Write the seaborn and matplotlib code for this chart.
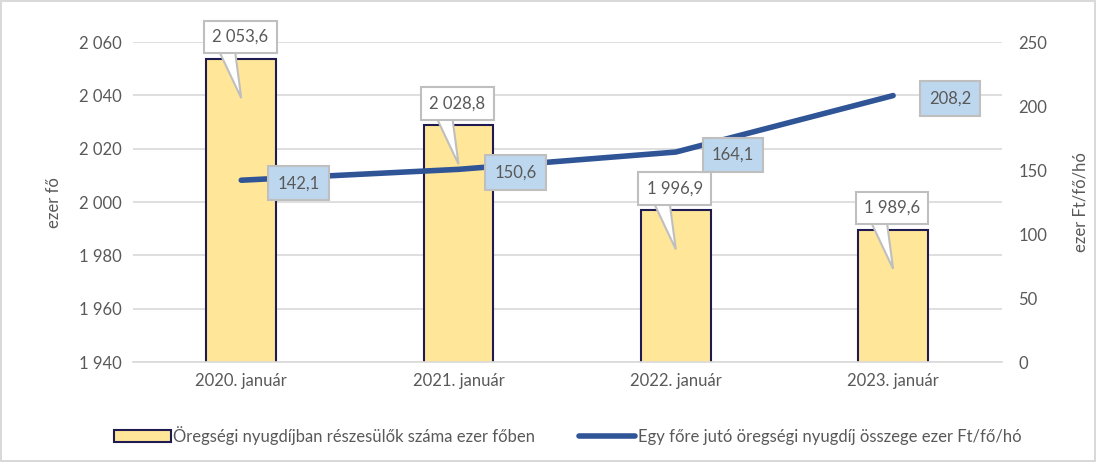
import matplotlib
matplotlib.use("Agg")
import matplotlib.pyplot as plt
import matplotlib.transforms as mtransforms
from matplotlib.patches import Patch, Polygon
from matplotlib.lines import Line2D
import seaborn as sns
import numpy as np
import pandas as pd

categories = ["2020. január", "2021. január", "2022. január", "2023. január"]
pensioners = [2053.6, 2028.8, 1996.9, 1989.6]
pension_amount = [142.1, 150.6, 164.1, 208.2]
left_ticks = [1940, 1960, 1980, 2000, 2020, 2040, 2060]
right_ticks = [0, 50, 100, 150, 200, 250]
bar_label_name = "Öregségi nyugdíjban részesülők száma ezer főben"
line_label_name = "Egy főre jutó öregségi nyugdíj összege ezer Ft/fő/hó"

def hu(v, dec=0):
    s = f"{v:,.{dec}f}"
    return s.replace(",", " ").replace(".", ",")

sns.set_theme(style="white")
plt.rcParams["font.family"] = ["Lato", "DejaVu Sans"]

TXT = "#595959"
BAR = "#FFE699"
BAR_EDGE = "#1F1A4F"
LINE = "#2F5597"
GRID = "#D9D9D9"
CALLOUT_EDGE = "#BFBFBF"
FS = 12

fig = plt.figure(figsize=(10.96, 4.62), dpi=100)
fig.patch.set_facecolor("white")
fig.patch.set_edgecolor("#D9D9D9")
fig.patch.set_linewidth(1.5)
ax = fig.add_axes([0.121, 0.216, 0.793, 0.693])

df = pd.DataFrame({"cat": categories, "val": pensioners})
sns.barplot(data=df, x="cat", y="val", ax=ax, color=BAR, width=0.32,
            edgecolor=BAR_EDGE, linewidth=1.5, saturation=1)
ax.set_ylim(1940, 2060)
ax.set_yticks(left_ticks)
ax.set_yticklabels([hu(t) for t in left_ticks])
ax.set_xlim(-0.5, 3.5)
ax.set_xlabel("")
ax.set_ylabel("ezer fő", color=TXT, fontsize=FS, labelpad=12)
ax.grid(axis="y", color=GRID, linewidth=1.2)
ax.set_axisbelow(True)
for s in ["top", "left", "right"]:
    ax.spines[s].set_visible(False)
ax.spines["bottom"].set_color(GRID)
ax.spines["bottom"].set_linewidth(1.2)
ax.tick_params(axis="both", colors=TXT, labelsize=FS, length=0, pad=8)

ax2 = ax.twinx()
sns.lineplot(x=np.arange(len(categories)), y=pension_amount, ax=ax2,
             color=LINE, linewidth=4, solid_capstyle="round")
ax2.set_ylim(0, 250)
ax2.set_yticks(right_ticks)
ax2.set_yticklabels([str(t) for t in right_ticks])
ax2.set_ylabel("ezer Ft/fő/hó", color=TXT, fontsize=FS, labelpad=18)
for s in ["top", "left", "right", "bottom"]:
    ax2.spines[s].set_visible(False)
ax2.tick_params(axis="y", colors=TXT, labelsize=FS, length=0, pad=12)
ax2.set_xlim(-0.5, 3.5)

# bar callouts: box above the bar plus a straight triangular pointer (pixel offsets)
for i, v in enumerate(pensioners):
    anchor = mtransforms.Affine2D() + mtransforms.ScaledTranslation(i, v, ax.transData)
    pointer = Polygon([(-25, 14), (-7, 14), (0, -39)], closed=True,
                      facecolor="white", edgecolor=CALLOUT_EDGE, linewidth=1.5,
                      transform=anchor, clip_on=False, zorder=4)
    ax2.add_artist(pointer)
    ax2.annotate(hu(v, 1), xy=(i, v), xycoords=ax.transData,
                 xytext=(-1, 22), textcoords="offset pixels",
                 ha="center", va="center", fontsize=FS, color=TXT,
                 bbox=dict(boxstyle="square,pad=0.5", fc="white", ec=CALLOUT_EDGE, lw=1.5),
                 annotation_clip=False, zorder=5)

# line labels
for i, v in enumerate(pension_amount):
    ax2.annotate(hu(v, 1), xy=(i, v), xytext=(57, -3), textcoords="offset pixels",
                 ha="center", va="center", fontsize=FS, color=TXT,
                 bbox=dict(boxstyle="square,pad=0.55", fc="#BDD7EE", ec=CALLOUT_EDGE, lw=1.5),
                 zorder=6)

handles = [Patch(facecolor=BAR, edgecolor=BAR_EDGE, linewidth=1.5),
           Line2D([0], [0], color=LINE, linewidth=4)]
fig.legend(handles, [bar_label_name, line_label_name], loc="center",
           bbox_to_anchor=(0.518, 0.058), ncol=2, frameon=False, fontsize=FS,
           labelcolor=TXT, handlelength=3.4, handletextpad=0.15, columnspacing=2.6)

fig.savefig("out.png", dpi=100)
